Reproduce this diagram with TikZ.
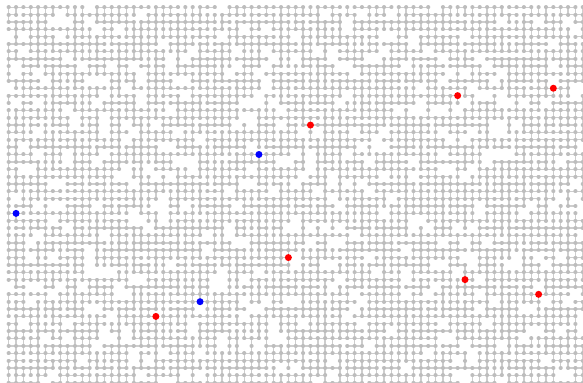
\documentclass[tikz,border=0pt]{standalone}
\usepackage{tikz}
\definecolor{sitegray}{HTML}{BDBDBD}
\definecolor{bondgray}{HTML}{CDCDCD}
\newcommand\flagof[1]{\ifcsname#1\endcsname\csname#1\endcsname\else0\fi}
\newcommand\setflag[2]{\expandafter\xdef\csname#1\endcsname{#2}}

\begin{document}
\begin{tikzpicture}[x=7.36pt, y=-7.36pt,
  site/.style={draw=sitegray, line width=4pt, line cap=round},
  redsite/.style={circle, fill=red, inner sep=0pt, minimum size=7pt},
  bluesite/.style={circle, fill=blue, inner sep=0pt, minimum size=7pt},
  bond/.style={draw=bondgray, line width=1.4pt}]
  \fill[white] (-1.18,-0.99) rectangle (78.03,51.04);
  \useasboundingbox (-1.18,-0.99) rectangle (78.03,51.04);
  \pgfmathsetseed{731}
  \foreach \i/\j in {61/12, 74/11, 41/16, 38/34, 62/37, 72/39, 20/42, 34/20, 1/28, 26/40}
    {\setflag{mark-\i-\j}{1}}
  \foreach \j in {0,...,51} {
    \foreach \i in {0,...,78} {
      \pgfmathrandominteger{\rn}{1}{100}
      \ifnum\rn>10 \setflag{alive-\i-\j}{1}\else\setflag{alive-\i-\j}{0}\fi
      \ifcsname mark-\i-\j\endcsname\setflag{alive-\i-\j}{1}\fi
    }
  }
  \foreach \j [evaluate=\j as \jnext using int(\j+1)] in {0,...,51} {
    \foreach \i [evaluate=\i as \inext using int(\i+1)] in {0,...,78} {
      \pgfmathrandominteger{\rh}{1}{100}
      \pgfmathrandominteger{\rv}{1}{100}
      \ifnum\numexpr\flagof{alive-\i-\j}*\flagof{alive-\inext-\j}\relax=1
        \ifnum\rh>21 \setflag{h-\i-\j}{1}\fi\fi
      \ifnum\numexpr\flagof{alive-\i-\j}*\flagof{alive-\i-\jnext}\relax=1
        \ifnum\rv>21 \setflag{v-\i-\j}{1}\fi\fi
    }
  }
  \foreach \j [evaluate=\j as \jnext using int(\j+1)] in {0,...,51} {
    \gdef\rowbonds{}
    \foreach \i [evaluate=\i as \inext using int(\i+1)] in {0,...,78} {
      \ifnum\flagof{h-\i-\j}=1 \xdef\rowbonds{\rowbonds (\i,\j) -- (\inext,\j)}\fi
      \ifnum\flagof{v-\i-\j}=1 \xdef\rowbonds{\rowbonds (\i,\j) -- (\i,\jnext)}\fi
    }
    \draw[bond] \rowbonds;
  }
  \foreach \j [evaluate=\j as \jprev using int(\j-1)] in {0,...,51} {
    \gdef\rowsites{}
    \foreach \i [evaluate=\i as \iprev using int(\i-1)] in {0,...,78} {
      \ifnum\numexpr\flagof{h-\i-\j}+\flagof{h-\iprev-\j}+\flagof{v-\i-\j}+\flagof{v-\i-\jprev}\relax>0
        \xdef\rowsites{\rowsites (\i,\j) +(-0.01,0) -- +(0.01,0)}
      \fi
    }
    \draw[site] \rowsites;
  }
  \foreach \i/\j in {61/12, 74/11, 41/16, 38/34, 62/37, 72/39, 20/42}
    {\node[redsite] (r-\i-\j) at (\i,\j) {};}
  \foreach \i/\j in {34/20, 1/28, 26/40}
    {\node[bluesite] (b-\i-\j) at (\i,\j) {};}
\end{tikzpicture}
\end{document}
